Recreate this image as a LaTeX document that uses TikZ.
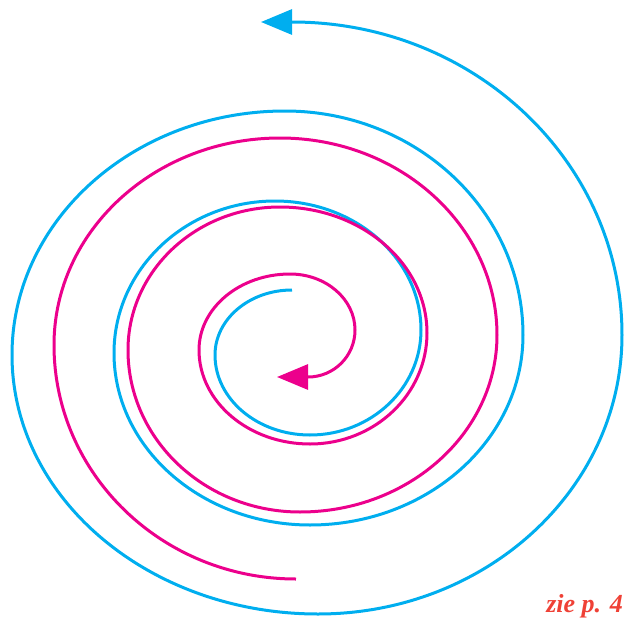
\documentclass[tikz,border=0pt]{standalone}
\usepackage{fontspec}
\setmainfont{Liberation Serif}
\usetikzlibrary{arrows.meta}
\definecolor{cyanline}{HTML}{00AEEF}
\definecolor{magline}{HTML}{EC008C}
\definecolor{notered}{HTML}{EF4136}
\begin{document}
\begin{tikzpicture}[x=1pt,y=-1pt,
  spiral/.style={line width=3pt},
  bigtip/.style={-{Triangle[length=31pt,width=25pt]}},
  note/.style={font=\fontsize{26}{28}\selectfont\bfseries\itshape, text=notered, inner sep=0pt, anchor=base east}]
\useasboundingbox (0,0) rectangle (625,619);
% cyan spiral (from centre outwards)
\draw[spiral, cyanline, bigtip]
  (292,290) .. controls (249.5,290) and (215,319.1) .. (215,355)
  .. controls (215,399.2) and (257.5,435) .. (310,435)
  .. controls (371.3,435) and (421,388) .. (421,330)
  .. controls (421,258.8) and (355.6,201) .. (275,201)
  .. controls (186.1,201) and (114,269.1) .. (114,353)
  .. controls (114,448) and (201.7,525) .. (310,525)
  .. controls (427.6,525) and (523,439.9) .. (523,335)
  .. controls (523,211.3) and (416.4,111) .. (285,111)
  .. controls (134.2,111) and (12,220.2) .. (12,355)
  .. controls (12,498) and (149,614) .. (318,614)
  .. controls (485.9,614) and (622,489.1) .. (622,335)
  .. controls (622,162.1) and (474.3,22) .. (292,22)
  -- (261,22);
% magenta spiral (from outside inwards)
\draw[spiral, magline, bigtip]
  (296,579) .. controls (162.3,579) and (54,474.2) .. (54,345)
  .. controls (54,230.7) and (155.2,138) .. (280,138)
  .. controls (399.8,138) and (497,226.2) .. (497,335)
  .. controls (497,432.8) and (408.8,512) .. (300,512)
  .. controls (205,512) and (128,439.5) .. (128,350)
  .. controls (128,271) and (196,207) .. (280,207)
  .. controls (361.2,207) and (427,263.4) .. (427,333)
  .. controls (427,394.3) and (374.6,444) .. (310,444)
  .. controls (248.7,444) and (199,401.9) .. (199,350)
  .. controls (199,308) and (239.7,274) .. (290,274)
  .. controls (325.9,274) and (355,299.1) .. (355,330)
  .. controls (355,356) and (334,377) .. (308,377)
  -- (277,377);
\node[note] (ref) at (623,612) {zie p. 4};
\end{tikzpicture}
\end{document}
